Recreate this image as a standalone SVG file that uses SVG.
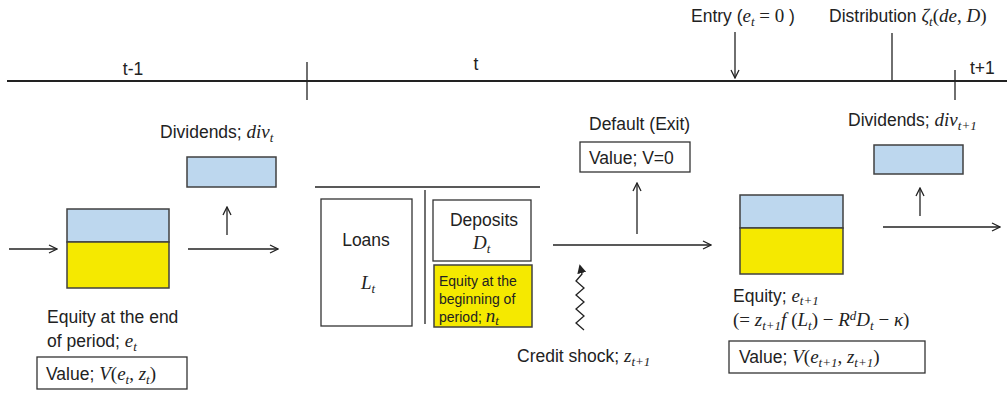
<svg xmlns="http://www.w3.org/2000/svg" width="1007" height="394" viewBox="0 0 1007 394">
<defs>
<marker id="ah" viewBox="0 0 10 10" refX="9" refY="5" markerWidth="10" markerHeight="10" markerUnits="userSpaceOnUse" orient="auto"><path d="M1,1 L9,5 L1,9" fill="none" stroke="#222" stroke-width="1.3"/></marker>
<marker id="ahs" viewBox="0 0 10 10" refX="8" refY="5" markerWidth="9" markerHeight="9" markerUnits="userSpaceOnUse" orient="auto"><path d="M0,0 L10,5 L0,10 Z" fill="#222"/></marker>
</defs>
<style>
.t{font-family:"Liberation Sans",Arial,sans-serif;font-size:17.5px;fill:#222}
.s{font-family:"Liberation Sans",Arial,sans-serif;font-size:14px;fill:#222}
.m{font-family:"Liberation Serif","Times New Roman",serif;font-style:italic;font-size:19px}
.r{font-family:"Liberation Serif","Times New Roman",serif;font-style:normal;font-size:19px}
.sub{font-size:13px}
.ln{stroke:#222;stroke-width:1.3;fill:none}
.bx{fill:#fff;stroke:#333;stroke-width:1.3}
.blue{fill:#BDD7EE;stroke:#404040;stroke-width:1.5}
.yel{fill:#F5E900;stroke:#404040;stroke-width:1.5}
</style>
<rect width="1007" height="394" fill="#fff"/>
<g id="timeline">
<line x1="7" y1="81" x2="1007" y2="81" stroke="#222" stroke-width="2"/>
<line x1="307" y1="62" x2="307" y2="100" class="ln" stroke-width="1.8"/>
<line x1="955" y1="70" x2="955" y2="100" class="ln" stroke-width="1.8"/>
<line x1="892" y1="33" x2="892" y2="81" class="ln"/>
<text class="t" x="133" y="75" text-anchor="middle" font-size="18">t-1</text>
<text class="t" x="476" y="70" text-anchor="middle" font-size="18">t</text>
<text class="t" x="970" y="74" font-size="18">t+1</text>
<text class="t" x="691" y="22">Entry (<tspan class="m">e</tspan><tspan class="m sub" dy="4">t</tspan><tspan class="r" dy="-4"> = 0 </tspan>)</text>
<text class="t" x="829" y="22">Distribution <tspan class="m">ζ</tspan><tspan class="m sub" dy="4">t</tspan><tspan class="r" dy="-4">(</tspan><tspan class="m">de</tspan><tspan class="r">, </tspan><tspan class="m">D</tspan><tspan class="r">)</tspan></text>
</g>
<g id="connectors">
<line x1="735" y1="32" x2="735" y2="78" class="ln" marker-end="url(#ah)"/>
<line x1="9" y1="249" x2="57" y2="249" class="ln" marker-end="url(#ah)"/>
<line x1="188" y1="249" x2="278" y2="249" class="ln" marker-end="url(#ah)"/>
<line x1="227" y1="235" x2="227" y2="207" class="ln" marker-end="url(#ah)"/>
<line x1="553" y1="245" x2="711" y2="245" class="ln" marker-end="url(#ah)"/>
<line x1="637" y1="234" x2="637" y2="183" class="ln" marker-end="url(#ah)"/>
<line x1="920" y1="216" x2="920" y2="188" class="ln" marker-end="url(#ah)"/>
<line x1="883" y1="227" x2="1000" y2="227" class="ln" marker-end="url(#ah)"/>
<polyline points="584,330 576,323 584,316 576,309 584,302 576,295 584,288 576,281 582,274 580,266" class="ln" stroke-width="1" marker-end="url(#ahs)"/>
</g>
<g id="equity-t">
<rect x="67" y="209" width="102" height="33" class="blue"/>
<rect x="67" y="242" width="102" height="46" class="yel"/>
<text class="t" x="47" y="323">Equity at the end</text>
<text class="t" x="47" y="347">of period; <tspan class="m">e</tspan><tspan class="m sub" dy="4">t</tspan></text>
</g>
<g id="value-t">
<rect x="37" y="357" width="150" height="32" class="bx"/>
<text class="t" x="46" y="380">Value; <tspan class="m">V</tspan><tspan class="r">(</tspan><tspan class="m">e</tspan><tspan class="m sub" dy="4">t</tspan><tspan class="r" dy="-4">, </tspan><tspan class="m">z</tspan><tspan class="m sub" dy="4">t</tspan><tspan class="r" dy="-4">)</tspan></text>
</g>
<g id="dividends-t">
<rect x="187" y="157" width="89" height="30" class="blue"/>
<text class="t" x="160" y="138">Dividends; <tspan class="m">div</tspan><tspan class="m sub" dy="4">t</tspan></text>
</g>
<g id="balance-sheet">
<line x1="315" y1="187" x2="540" y2="187" class="ln" stroke-width="1"/>
<line x1="425" y1="190" x2="425" y2="324" class="ln" stroke-width="1.5"/>
<rect x="321" y="199" width="91" height="127" class="bx"/>
<text class="t" x="366" y="246" text-anchor="middle">Loans</text>
<text class="t m" x="361" y="289">L<tspan class="sub" dy="4">t</tspan></text>
<rect x="433" y="200" width="98" height="61" class="bx"/>
<text class="t" x="484" y="226" text-anchor="middle">Deposits</text>
<text class="t m" x="473" y="249">D<tspan class="sub" dy="4">t</tspan></text>
<rect x="434" y="265" width="98" height="62" class="yel"/>
<text class="s" x="439" y="286">Equity at the</text>
<text class="s" x="439" y="304">beginning of</text>
<text class="s" x="439" y="322">period; <tspan class="m" font-size="19">n</tspan><tspan class="m sub" dy="3">t</tspan></text>
</g>
<g id="default">
<text class="t" x="589" y="130">Default (Exit)</text>
<rect x="580" y="142" width="110" height="30" class="bx"/>
<text class="t" x="589" y="164">Value; V=0</text>
</g>
<g id="credit-shock">
<text class="t" x="517" y="362">Credit shock; <tspan class="m">z</tspan><tspan class="m sub" dy="4">t+1</tspan></text>
</g>
<g id="equity-t1">
<rect x="740" y="195" width="103" height="33" class="blue"/>
<rect x="740" y="228" width="103" height="46" class="yel"/>
<text class="t" x="733" y="302">Equity; <tspan class="m">e</tspan><tspan class="m sub" dy="3">t+1</tspan></text>
<text class="t r" x="733" y="326">(= <tspan class="m">z</tspan><tspan class="m sub" dy="4">t+1</tspan><tspan class="m" dy="-4">f</tspan> (<tspan class="m">L</tspan><tspan class="m sub" dy="4">t</tspan><tspan dy="-4">) − </tspan><tspan class="m">R</tspan><tspan class="m sub" dy="-6">d</tspan><tspan class="m" dy="6">D</tspan><tspan class="m sub" dy="4">t</tspan><tspan dy="-4"> − </tspan><tspan class="m">κ</tspan>)</text>
</g>
<g id="value-t1">
<rect x="729" y="341" width="196" height="32" class="bx"/>
<text class="t" x="739" y="363">Value; <tspan class="m">V</tspan><tspan class="r">(</tspan><tspan class="m">e</tspan><tspan class="m sub" dy="4">t+1</tspan><tspan class="r" dy="-4">, </tspan><tspan class="m">z</tspan><tspan class="m sub" dy="4">t+1</tspan><tspan class="r" dy="-4">)</tspan></text>
</g>
<g id="dividends-t1">
<rect x="874" y="145" width="89" height="29" class="blue"/>
<text class="t" x="848" y="126">Dividends; <tspan class="m">div</tspan><tspan class="m sub" dy="4">t+1</tspan></text>
</g>
</svg>
